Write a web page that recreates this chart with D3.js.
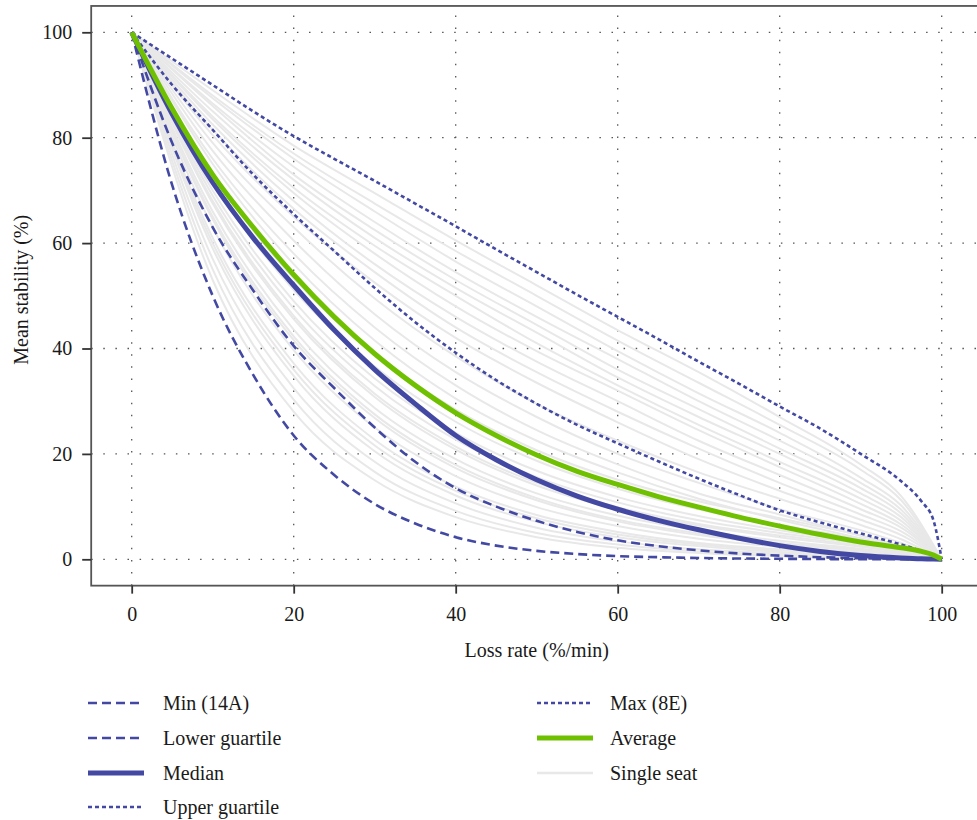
<!DOCTYPE html>
<html lang="en">
<head>
<meta charset="UTF-8">
<title>Mean stability vs loss rate</title>
<script src="https://cdn.jsdelivr.net/npm/d3@7"></script>
<style>
    body{margin:0;background:#fff;}
    svg text{font-family:"Liberation Serif","DejaVu Serif",serif;fill:#1a1a1a;}
</style>
</head>
<body>
<svg width="977" height="820"></svg>
<script>
// x values shared by the summary curves
var lossRate=[0,5,10,15,20,25,30,35,40,45,50,55,60,65,70,75,80,85,90,95,97.5,99,100];

var minSeat=[100,71,50,35,23.5,16,10.5,6.8,4.2,2.6,1.6,1.0,0.6,0.4,0.25,0.15,0.1,0.05,0.02,0,0,0,0];
var lowerQuartile=[100,79,63,51,40.5,32.5,25,18.5,13.5,10,7.3,5.2,3.6,2.5,1.7,1.1,0.7,0.4,0.2,0.1,0.05,0,0];
var median=[100,84.5,71.5,61,52,43.5,36,29.5,23.5,18.9,15.1,12,9.5,7.4,5.6,4,2.6,1.5,0.7,0.25,0.1,0.05,0];
var upperQuartile=[100,90,81.5,73,65.5,58.5,51.5,45,39.2,34,29.5,25.5,22,18.6,15.3,12.2,9.3,7,4.9,2.8,1.6,0.7,0];
var maxSeat=[100,95,90,85,80.3,76,71.8,67.5,63.2,58.8,54.5,50.2,46,41.8,37.5,33.3,29,24.8,20,14.8,11,7.3,0];
var average=[100,85.5,73,63,54,46,39,33,27.8,23.5,19.8,16.7,14.2,11.9,9.9,8,6.3,4.7,3.3,2.2,1.5,0.8,0];

// single seats, read every 10 %/min (plus 95)
var seatX=[0,10,20,30,40,50,60,70,80,90,95,100];
var singleSeats=[
    [100,89,78.5,69.5,60.5,52,43.5,35.5,27,18,12,0],
    [100,88,77,67.5,58.5,50,41.5,33.5,25.5,17,11.2,0],
    [100,87.5,76,66,56.5,48,39.5,31.5,24,15.5,10.2,0],
    [100,86.5,74.5,64,54.5,46,38,30,22.5,14.5,9.4,0],
    [100,86,73,62.5,53,44.5,36,28.5,21,13.5,8.7,0],
    [100,85,72,61,51.5,43,34.5,27,20,12.5,8,0],
    [100,84,70.5,59.5,50,41,33,25.5,18.5,11.5,7.3,0],
    [100,83.5,69.5,58,48,39.5,32,24.5,17.5,10.5,6.6,0],
    [100,82.5,68,56,46,37.5,30,22.5,16,9.5,6,0],
    [100,81.5,66.5,54.5,44,35.5,28,21,14.5,8.5,5.3,0],
    [100,80.5,65,52.5,42,33.5,26,19,13,7.5,4.6,0],
    [100,79,63,49.5,38.5,29.5,22.5,16.5,11.5,6.5,3.8,0],
    [100,77.5,60.5,46.5,35.5,27,20,14.5,9.5,5.5,3.1,0],
    [100,76,58,44,33,24.5,18,12.5,8.5,4.5,2.5,0],
    [100,75,56,41.5,30.5,22.5,16.5,11.5,7.5,4,2.2,0],
    [100,73,53.3,38.9,28.4,20.7,15.1,11,7.8,4.5,2.5,0],
    [100,71.5,51.1,36.6,26.1,18.7,13.4,9.5,6.5,3.8,2.1,0],
    [100,70,49,34.3,24,16.8,11.8,8.2,5.5,3.2,1.8,0],
    [100,69,47.6,32.9,22.7,15.6,10.8,7.4,5,2.9,1.6,0],
    [100,68,46.2,31.4,21.4,14.5,9.9,6.7,4.5,2.6,1.4,0],
    [100,67.5,45.6,30.8,20.8,14,9.5,6.4,4.2,2.4,1.3,0],
    [100,66,43.6,28.7,19,12.5,8.3,5.5,3.5,2,1.1,0],
    [100,65,42.3,27.5,17.9,11.6,7.5,4.9,3.1,1.8,1,0],
    [100,64.5,41.6,26.8,17.3,11.2,7.2,4.6,2.9,1.6,0.9,0],
    [100,63,39.7,25,15.8,9.9,6.3,3.9,2.4,1.3,0.7,0],
    [100,61,37.2,22.7,13.8,8.4,5.2,3.1,1.9,1,0.5,0],
    [100,60,36,21.6,13,7.8,4.7,2.8,1.7,0.9,0.5,0],
    [100,59,34.8,20.5,12.1,7.1,4.2,2.5,1.4,0.7,0.4,0],
    [100,57,32.5,18.5,10.6,6,3.4,1.9,1.1,0.5,0.3,0],
    [100,55,30.3,16.6,9.2,5,2.8,1.5,0.8,0.4,0.2,0],
    [100,53,28,15,8,4.2,2.2,1.2,0.6,0.3,0.1,0]
];

var tickValues=[0,20,40,60,80,100];
var blue='#4349a3', green='#6fc000', grey='#e8e8e8';

var svg=d3.select('svg');
var xScale=d3.scaleLinear().domain([-5,105]).range([91.2,982.2]);
var yScale=d3.scaleLinear().domain([-5,105]).range([585.65,5.95]);

// grid
var grid=svg.append('g').attr('stroke','#555').attr('stroke-width',1.3).attr('stroke-dasharray','1.5,10.6');
grid.selectAll('.gx').data(tickValues).enter().append('line')
    .attr('x1',d=>xScale(d)).attr('x2',d=>xScale(d))
    .attr('y1',yScale(-5)).attr('y2',yScale(105));
grid.selectAll('.gy').data(tickValues).enter().append('line')
    .attr('y1',d=>yScale(d)).attr('y2',d=>yScale(d))
    .attr('x1',xScale(-5)).attr('x2',xScale(105));

var line=d3.line().curve(d3.curveMonotoneX);

// single seats
svg.append('g').selectAll('path').data(singleSeats).enter().append('path')
    .attr('fill','none').attr('stroke',grey).attr('stroke-width',2)
    .attr('d',vals=>line(vals.map((v,i)=>[xScale(seatX[i]),yScale(v)])));

var series=[
    {name:'Min (14A)',vals:minSeat,color:blue,width:2.6,dash:'9,5',col:0,row:0},
    {name:'Lower guartile',vals:lowerQuartile,color:blue,width:2.6,dash:'9,5',col:0,row:1},
    {name:'Upper guartile',vals:upperQuartile,color:blue,width:2.6,dash:'4,3',col:0,row:3},
    {name:'Max (8E)',vals:maxSeat,color:blue,width:2.6,dash:'4,3',col:1,row:0},
    {name:'Median',vals:median,color:blue,width:5,dash:null,col:0,row:2},
    {name:'Average',vals:average,color:green,width:5,dash:null,col:1,row:1}
];

svg.append('g').selectAll('path').data(series).enter().append('path')
    .attr('fill','none').attr('stroke',d=>d.color).attr('stroke-width',d=>d.width)
    .attr('stroke-dasharray',d=>d.dash)
    .attr('d',d=>line(d.vals.map((v,i)=>[xScale(lossRate[i]),yScale(v)])));

// frame
svg.append('rect')
    .attr('x',xScale(-5)).attr('y',yScale(105))
    .attr('width',xScale(105)-xScale(-5)).attr('height',yScale(-5)-yScale(105))
    .attr('fill','none').attr('stroke','#555').attr('stroke-width',1.8);

// axes
var yAxis=svg.append('g').attr('transform','translate('+xScale(-5)+',0)')
    .call(d3.axisLeft(yScale).tickValues(tickValues).tickSize(9).tickPadding(10));
var xAxis=svg.append('g').attr('transform','translate(0,'+yScale(-5)+')')
    .call(d3.axisBottom(xScale).tickValues(tickValues).tickSize(8).tickPadding(13.5));
[xAxis,yAxis].forEach(function(a){
    a.select('.domain').remove();
    a.selectAll('line').attr('stroke','#333').attr('stroke-width',1.8);
    a.selectAll('text').attr('font-size',20).attr('font-family','"Liberation Serif",serif').attr('fill','#1a1a1a');
});

svg.append('text').attr('x',(xScale(0)+xScale(100))/2).attr('y',657)
    .attr('text-anchor','middle').attr('font-size',20).text('Loss rate (%/min)');
svg.append('text').attr('transform','translate(28,'+((yScale(0)+yScale(100))/2-6)+') rotate(-90)')
    .attr('text-anchor','middle').attr('font-size',20).text('Mean stability (%)');

// legend
var legendOrder=[series[0],series[1],series[4],series[2],series[3],series[5],
    {name:'Single seat',color:grey,width:2.6,dash:null,col:1,row:2}];
var legendCols=[{x1:88,x2:144,tx:163},{x1:537,x2:593,tx:610}];
var legendRows=[703,738,773,807];
var lg=svg.append('g').selectAll('g').data(legendOrder).enter().append('g')
    .attr('transform',d=>'translate(0,'+legendRows[d.row]+')');
lg.append('line')
    .attr('x1',d=>legendCols[d.col].x1).attr('x2',d=>legendCols[d.col].x2)
    .attr('stroke',d=>d.color).attr('stroke-width',d=>d.width)
    .attr('stroke-dasharray',d=>d.dash);
lg.append('text').attr('x',d=>legendCols[d.col].tx).attr('y',6.5)
    .attr('font-size',20).text(d=>d.name);
</script>
</body>
</html>
